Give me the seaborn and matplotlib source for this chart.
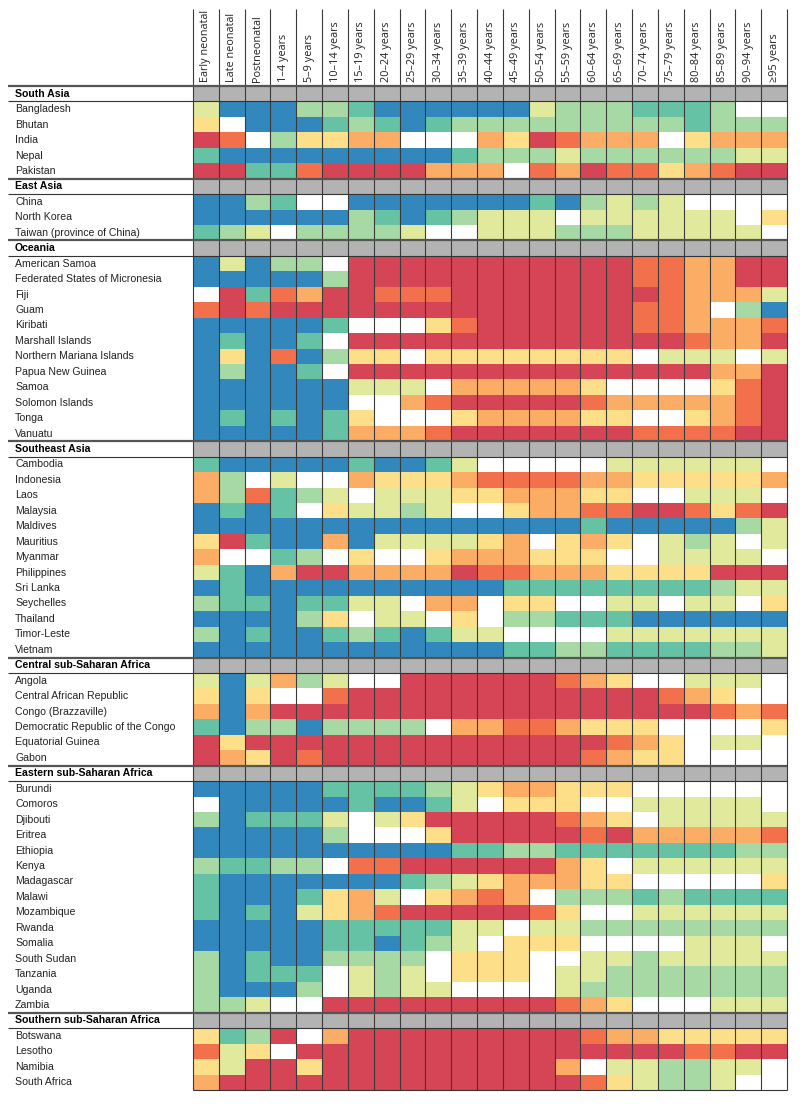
import numpy as np
import pandas as pd
import seaborn as sns
import matplotlib
import matplotlib.pyplot as plt
from matplotlib.colors import ListedColormap

matplotlib.use("Agg")

age_groups = [
    "Early neonatal", "Late neonatal", "Postneonatal", "1–4 years", "5–9 years",
    "10–14 years", "15–19 years", "20–24 years", "25–29 years", "30–34 years",
    "35–39 years", "40–44 years", "45–49 years", "50–54 years", "55–59 years",
    "60–64 years", "65–69 years", "70–74 years", "75–79 years", "80–84 years",
    "85–89 years", "90–94 years", "≥95 years",
]

# level codes, low -> high: B T G Y W P O D R
level_codes = "BTGYWPODR"
level_colors = ["#3288bd", "#66c2a5", "#a7d9a4", "#e1ea9c", "#ffffff",
                "#fddf8a", "#fbac65", "#f2704c", "#d54556"]
header_color = "#b3b3b3"

region_names = [
    "South Asia", "East Asia", "Oceania", "Southeast Asia",
    "Central sub-Saharan Africa", "Eastern sub-Saharan Africa",
    "Southern sub-Saharan Africa",
]

south_asia = ["Bangladesh", "Bhutan", "India", "Nepal", "Pakistan"]
south_asia_levels = [
    "YBBBGGTBBBBBBYGGGTTTGWW",
    "PWBBBTGTBTGGGGGGGGGTGGG",
    "RDWGPPOOWWWOPRDOOOWPOOO",
    "TBBBBBBBBBTGGGYGGGGGGYY",
    "RRTTDRRRROOOWDORDDPODRR",
]

east_asia = ["China", "North Korea", "Taiwan (province of China)"]
east_asia_levels = [
    "BBGTWWBBBBBBBTBGYGYWWWW",
    "BBBBBBGTBTGYYYWYYYYYYWP",
    "TGYWGGGGYWWYYYGGGYYYYYW",
]

oceania = [
    "American Samoa", "Federated States of Micronesia", "Fiji", "Guam",
    "Kiribati", "Marshall Islands", "Northern Mariana Islands",
    "Papua New Guinea", "Samoa", "Solomon Islands", "Tonga", "Vanuatu",
]
oceania_levels = [
    "BYBGGWRRRRRRRRRRRDDOORR",
    "BBBBBGRRRRRRRRRRRDDOORR",
    "WRTDORRDDDRRRRRRRRDOOOY",
    "DRDRRRRRRRRRRRRRRDDOWGB",
    "BBBBBTWWWPDRRRRRRDDOOOD",
    "BTBBTWRRRRRRRRRRRRRDOOR",
    "BPBDBGPPWPPPPPPPPWYYYWY",
    "BGBBTWRRRRRRRRRRRRRROOR",
    "BBBBBBYYYWOOOOOPWWWWPDR",
    "BBBBBBWWODRRRRRDOOOOODR",
    "BTBTBTPWWWPOOOOPPWWPODR",
    "BBBBBTOOODRRRRRRRDDDDRR",
]

southeast_asia = [
    "Cambodia", "Indonesia", "Laos", "Malaysia", "Maldives", "Mauritius",
    "Myanmar", "Philippines", "Sri Lanka", "Seychelles", "Thailand",
    "Timor-Leste", "Vietnam",
]
southeast_asia_levels = [
    "TBBBBBTBBTYWWWWWYYYYYYW",
    "OGWYWWOPPPODDDDOOPPPPPO",
    "OGDTGYWYYYPPOOOPPWWYYYW",
    "BTBTWPYYGYWWPOODDRRDPDR",
    "BBBBBBBBBBBBBBBTBBBBBGY",
    "PRTBBOBYYYYPOWPOPWYGYWY",
    "OWWTGWPWWPOOOPPPWWYYYYW",
    "YTBORROOOORDDOOOPPPPRRR",
    "BTBBBBBBBBBBTTTTTTTTGYY",
    "GTTBTTYYWOOWPPWWYYWYYWP",
    "BBBBGPWYYWPWGGTTTBBBBBB",
    "GBTBBTGTBTYYWWWWYYYYYYY",
    "BBBBBBBBBBBBTTGGTTTTGGY",
]

central_ssa = [
    "Angola", "Central African Republic", "Congo (Brazzaville)",
    "Democratic Republic of the Congo", "Equatorial Guinea", "Gabon",
]
central_ssa_levels = [
    "YBYOGYWWRRRRRRDOPWWYYYW",
    "PBPWWDRRRRRRRRRRRRDOPWW",
    "OBORRRRRRRRRRRRRRRRRDOD",
    "TBGGBGGGGWOODDOPPPWWWWP",
    "RPRRRRRRRRRRRRRRDOPWYYW",
    "ROPRDRRRRRRRRRRDOPPWWWW",
]

eastern_ssa = [
    "Burundi", "Comoros", "Djibouti", "Eritrea", "Ethiopia", "Kenya",
    "Madagascar", "Malawi", "Mozambique", "Rwanda", "Somalia",
    "South Sudan", "Tanzania", "Uganda", "Zambia",
]
eastern_ssa_levels = [
    "BBBBBTTTTGYPOOPPPWWWWWW",
    "WBBBBBTBBTYWPPPWWYYYYYW",
    "GBTTTYWYPRRRRRDOPWYYYYY",
    "BBBBBGWWWPRRRRRDROOOOOD",
    "BBBBBBBBBBTTGGTTTTTTTGG",
    "GTTGGWDDRRRRRROPWYYYYYY",
    "TBBBBBBBTGYPOOOPPWWWWWP",
    "TBBBTPOYWPODOWGGGTGTTTT",
    "TBTBYPODRRRRRDPWWYYYYYY",
    "BBBBBTTTTTYYWYYGGGGGGGG",
    "BBBBBTTBTGYWPPPWWWWYYYW",
    "GBTBBGGGGWPPPWWYYGYYYYY",
    "GBTTTWYGYWPPPWYYGGGGGGG",
    "GBBBGWYGYYWWWWYGGGGGGGG",
    "GGYWWRRRRRRRRRDOPWWWYYY",
]

southern_ssa = ["Botswana", "Lesotho", "Namibia", "South Africa"]
southern_ssa_levels = [
    "PTGRWORRRRRRRRRDOOPPPPP",
    "DYPWRRRRRRRRRRRRRRRDDRR",
    "PYRRPRRRRRRRRROWYYGGYYW",
    "ORRRRRRRRRRRRRRDPYGGYWW",
]

countries = [south_asia, east_asia, oceania, southeast_asia,
             central_ssa, eastern_ssa, southern_ssa]
levels = [south_asia_levels, east_asia_levels, oceania_levels,
          southeast_asia_levels, central_ssa_levels, eastern_ssa_levels,
          southern_ssa_levels]

# build the matrix: one grey header row per region, then its countries
header_value = len(level_codes)
rows, labels, header_rows = [], [], []
for name, names, codes in zip(region_names, countries, levels):
    header_rows.append(len(rows))
    rows.append([header_value] * len(age_groups))
    labels.append(name)
    for country, code in zip(names, codes):
        rows.append([level_codes.index(c) for c in code])
        labels.append(country)

df = pd.DataFrame(rows, index=labels, columns=age_groups)
cmap = ListedColormap(level_colors + [header_color])

W, H = 800, 1104
fig = plt.figure(figsize=(W / 100, H / 100), dpi=100)
left, right, top, bottom = 193, 787, 86, 1090
ax = fig.add_axes([left / W, 1 - bottom / H, (right - left) / W, (bottom - top) / H])

sns.heatmap(df, cmap=cmap, vmin=-0.5, vmax=header_value + 0.5, cbar=False,
            linewidths=0, xticklabels=True, yticklabels=True, ax=ax)

n_rows, n_cols = df.shape
col_px = (right - left) / n_cols
row_px = (bottom - top) / n_rows

# column labels on top
ax.xaxis.tick_top()
ax.set_xticklabels(age_groups, rotation=90, ha="center", va="bottom",
                   fontsize=7.8, family=["Open Sans", "DejaVu Sans"], color="#222222")
ax.tick_params(axis="x", length=0, pad=3)

# row labels left-aligned near the left edge
ax.set_yticklabels(labels, rotation=0, ha="left", fontsize=7.6,
                   family=["Liberation Sans Narrow", "Liberation Sans"], color="#222222")
ax.tick_params(axis="y", length=0, pad=(left - 15) * 0.72)
for i, lab in enumerate(ax.get_yticklabels()):
    if i in header_rows:
        lab.set_fontweight("bold")
        lab.set_color("black")
ax.set_xlabel("")
ax.set_ylabel("")

# vertical separators run up through the label area
top_ext = -(top - 9) / row_px
ax.vlines(np.arange(n_cols + 1), top_ext, n_rows, colors="#3a3a3a",
          linewidth=0.8, clip_on=False)

# horizontal rules around each region header
x_start = -(left - 8) / col_px
for r in header_rows:
    ax.hlines(r, x_start, n_cols, colors="#555555", linewidth=1.6, clip_on=False)
    ax.hlines(r + 1, x_start, n_cols, colors="#333333", linewidth=0.8, clip_on=False)
ax.hlines(n_rows, 0, n_cols, colors="#333333", linewidth=0.8, clip_on=False)

for s in ax.spines.values():
    s.set_visible(False)

fig.savefig("out.png", dpi=100)
plt.close(fig)
